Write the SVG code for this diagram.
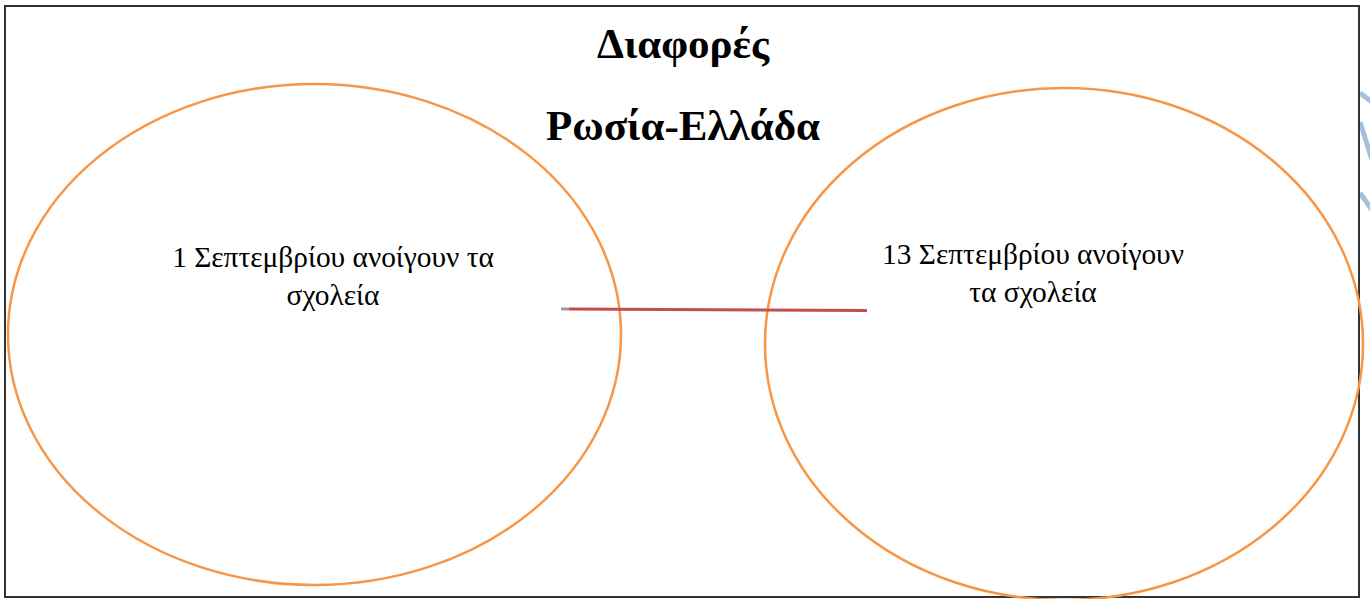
<svg xmlns="http://www.w3.org/2000/svg" width="1370" height="599" viewBox="0 0 1370 599">
<style>
.title{font-family:"Liberation Serif",serif;font-weight:bold;font-size:43px;fill:#000;text-anchor:middle}
.lbl{font-family:"Liberation Serif",serif;font-size:29.4px;fill:#000;text-anchor:middle}
.circ{fill:none;stroke:#F79646;stroke-width:2.5}
.deco{stroke:#A7BFDE;stroke-width:5;fill:none}
</style>
<rect width="1370" height="599" fill="#fff"/>
<g id="deco">
<line class="deco" x1="1360" y1="93" x2="1372" y2="102"/>
<line class="deco" x1="1360" y1="122" x2="1372" y2="160"/>
<line class="deco" x1="1360" y1="193" x2="1372" y2="210"/>
</g>
<rect id="frame" x="5" y="6" width="1354" height="591" fill="none" stroke="#333" stroke-width="2"/>
<g id="title">
<text class="title" x="683" y="58">Διαφορές</text>
<text class="title" x="683" y="140">Ρωσία-Ελλάδα</text>
</g>
<g id="russia">
<ellipse class="circ" cx="314.5" cy="334.5" rx="306.5" ry="250.5"/>
<text class="lbl" x="333" y="267">1 Σεπτεμβρίου ανοίγουν τα</text>
<text class="lbl" x="333" y="305">σχολεία</text>
</g>
<g id="greece">
<ellipse class="circ" cx="1064" cy="344" rx="299" ry="256"/>
<text class="lbl" x="1033" y="264">13 Σεπτεμβρίου ανοίγουν</text>
<text class="lbl" x="1033" y="302">τα σχολεία</text>
</g>
<g id="connectors">
<line x1="561" y1="309" x2="569" y2="309" stroke="#9A9A9A" stroke-width="3"/>
<line x1="569" y1="309" x2="867" y2="310.5" stroke="#C0504D" stroke-width="3"/>
</g>
</svg>
